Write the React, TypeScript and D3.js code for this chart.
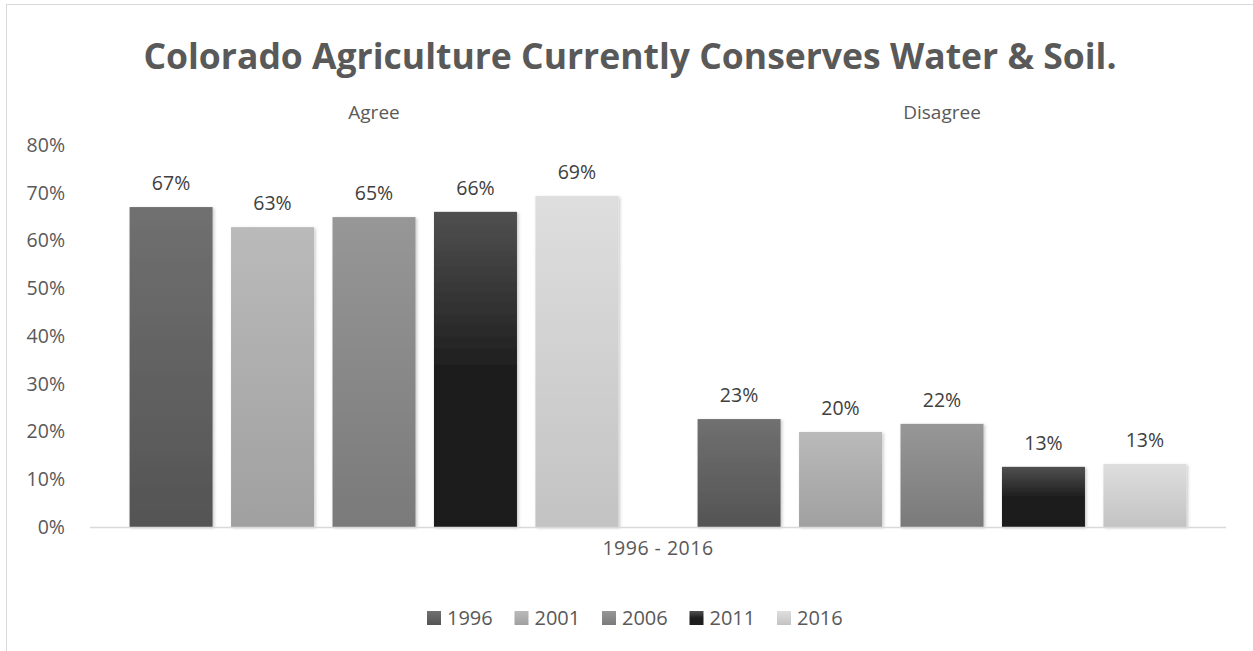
import React from "react";
import * as d3 from "d3";

const categories = ["Agree", "Disagree"];
const years = ["1996", "2001", "2006", "2011", "2016"];
const values1996 = [0.67, 0.226];
const values2001 = [0.628, 0.199];
const values2006 = [0.649, 0.216];
const values2011 = [0.66, 0.126];
const values2016 = [0.693, 0.132];
const labels1996 = ["67%", "23%"];
const labels2001 = ["63%", "20%"];
const labels2006 = ["65%", "22%"];
const labels2011 = ["66%", "13%"];
const labels2016 = ["69%", "13%"];
const yTicks = [0, 0.1, 0.2, 0.3, 0.4, 0.5, 0.6, 0.7, 0.8];
const title = "Colorado Agriculture Currently Conserves Water & Soil.";
const axisTitle = "1996 - 2016";

const seriesValues = [values1996, values2001, values2006, values2011, values2016];
const seriesLabels = [labels1996, labels2001, labels2006, labels2011, labels2016];
const gradStops: [string, string, number][] = [
  ["#707070", "#545454", 0],
  ["#bababa", "#a0a0a0", 0],
  ["#979797", "#7a7a7a", 0],
  ["#505050", "#1e1e1e", 0.5],
  ["#dedede", "#c3c3c3", 0],
];

const W = 1253;
const H = 651;
const FONT = "'Open Sans', sans-serif";

export default function App() {
  const x0 = d3.scaleBand().domain(categories).range([90, 1226]).paddingInner(0).paddingOuter(0);
  const x1 = d3
    .scaleBand()
    .domain(years)
    .range([0, x0.bandwidth()])
    .paddingInner(0.182)
    .paddingOuter(0.39);
  const y = d3.scaleLinear().domain([0, 0.8]).range([527, 145]);

  const legendX = d3.scalePoint().domain(years).range([427, 777]);

  return (
    <div style={{ position: "absolute", left: 0, top: 0 }}>
      <svg width={W} height={H} style={{ display: "block", background: "#fff" }}>
        <defs>
          {gradStops.map((g, i) => (
            <linearGradient key={i} id={`g${i}`} x1="0" y1="0" x2="0" y2="1">
              <stop offset="0" stopColor={g[0]} />
              <stop offset={g[2] || 1} stopColor={g[1]} />
              <stop offset="1" stopColor={g[1]} />
            </linearGradient>
          ))}
          <filter id="shadow" x="-10%" y="-10%" width="130%" height="130%">
            <feDropShadow dx="1.5" dy="1" stdDeviation="1.5" floodColor="#000" floodOpacity="0.22" />
          </filter>
        </defs>
        <rect x={6.5} y={4.5} width={1260} height={700} fill="none" stroke="#d9d9d9" strokeWidth={1} />
        <text
          x={630}
          y={69}
          textAnchor="middle"
          fontFamily={FONT}
          fontWeight={700}
          fontSize={35.5}
          fill="#595959"
        >
          {title}
        </text>
        {yTicks.map((t) => (
          <text
            key={t}
            x={65}
            y={y(t)}
            dy="0.35em"
            textAnchor="end"
            fontFamily={FONT}
            fontSize={19.5}
            fill="#595959"
          >
            {d3.format(".0%")(t)}
          </text>
        ))}
        {categories.map((c) => (
          <text
            key={c}
            x={(x0(c) as number) + x0.bandwidth() / 2}
            y={112}
            dy="0.35em"
            textAnchor="middle"
            fontFamily={FONT}
            fontSize={19}
            fill="#595959"
          >
            {c}
          </text>
        ))}
        {categories.map((c, ci) =>
          years.map((yr, si) => {
            const v = seriesValues[si][ci];
            const bx = (x0(c) as number) + (x1(yr) as number);
            return (
              <g key={c + yr}>
                <rect
                  x={bx}
                  y={y(v)}
                  width={x1.bandwidth()}
                  height={y(0) - y(v)}
                  fill={`url(#g${si})`}
                  filter="url(#shadow)"
                />
                <text
                  x={bx + x1.bandwidth() / 2}
                  y={y(v) - 24}
                  dy="0.35em"
                  textAnchor="middle"
                  fontFamily={FONT}
                  fontSize={19.5}
                  fill="#404040"
                >
                  {seriesLabels[si][ci]}
                </text>
              </g>
            );
          })
        )}
        <line x1={90} x2={1226} y1={527.5} y2={527.5} stroke="#d9d9d9" strokeWidth={1.5} />
        <text
          x={658}
          y={548}
          dy="0.35em"
          textAnchor="middle"
          fontFamily={FONT}
          fontSize={19.5}
          letterSpacing={0.5}
          fill="#595959"
        >
          {axisTitle}
        </text>
        {years.map((yr, si) => (
          <g key={yr} transform={`translate(${legendX(yr)},${618})`}>
            <rect x={0} y={-7} width={14} height={14} fill={`url(#g${si})`} />
            <text x={20} y={0} dy="0.35em" fontFamily={FONT} fontSize={20} fill="#595959">
              {yr}
            </text>
          </g>
        ))}
      </svg>
    </div>
  );
}
